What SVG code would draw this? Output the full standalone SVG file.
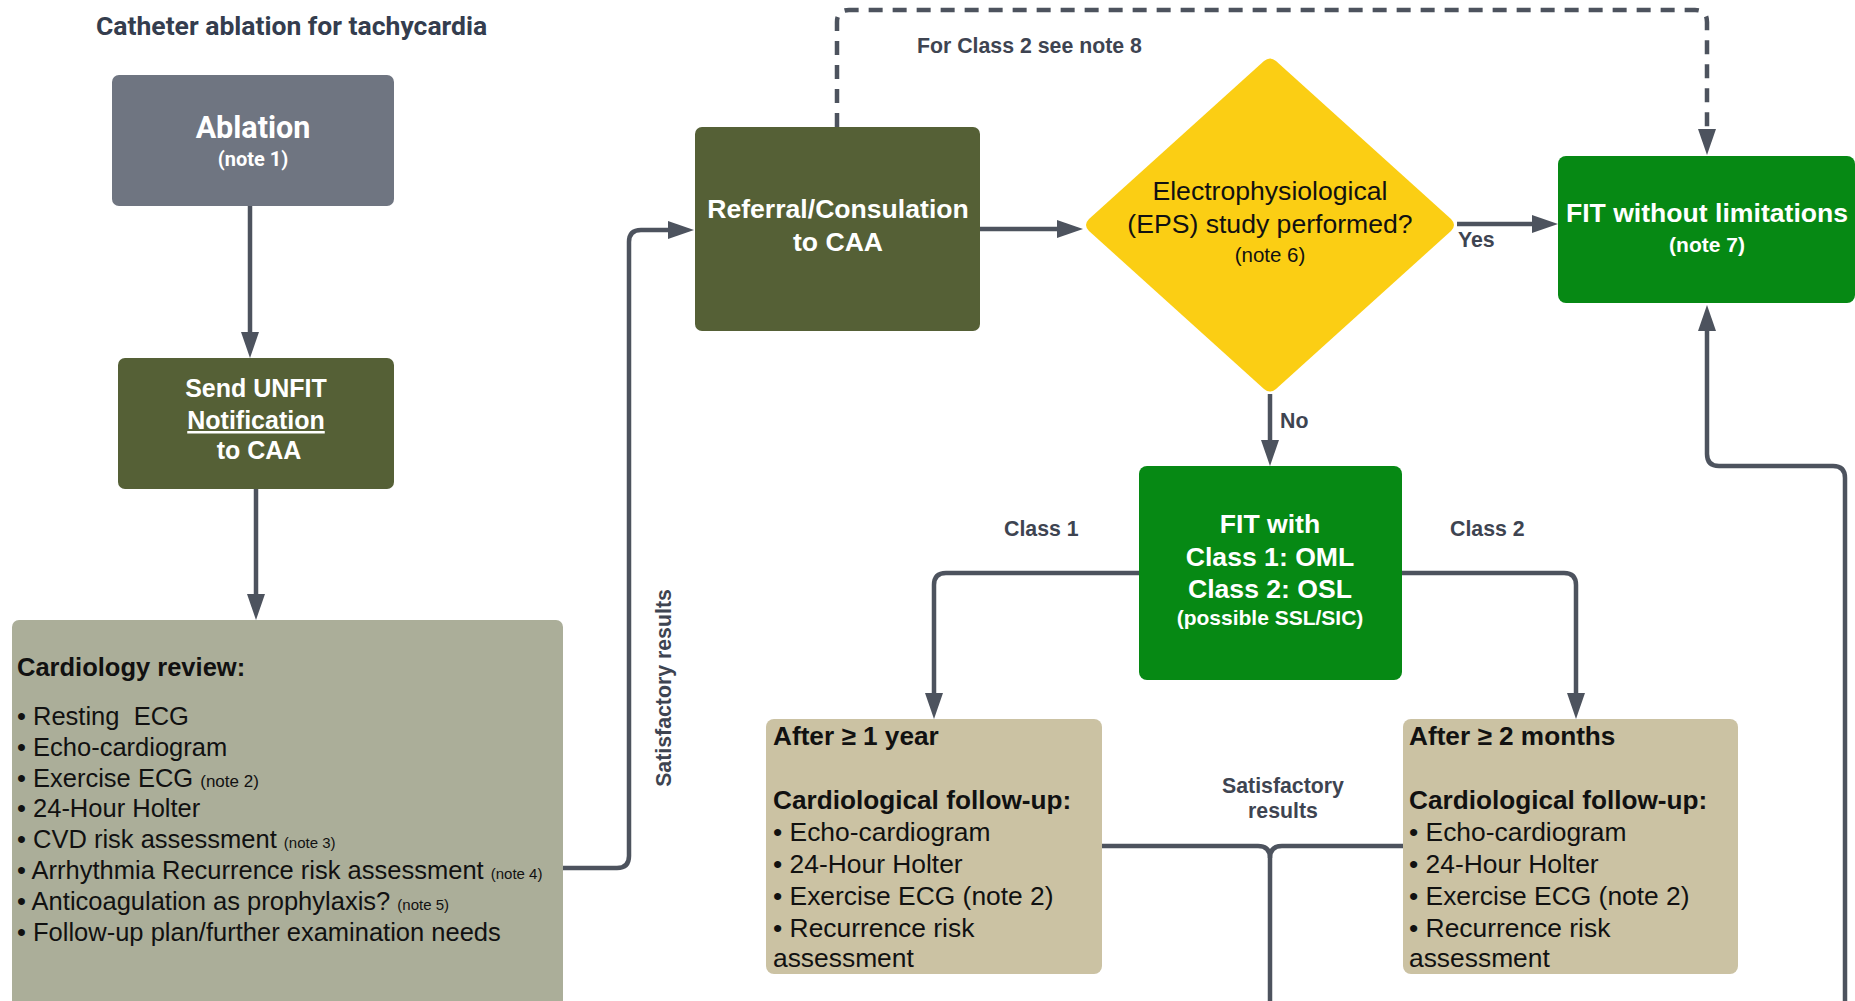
<svg xmlns="http://www.w3.org/2000/svg" width="1855" height="1001" viewBox="0 0 1855 1001">
<defs>
<style>
.title{font-family:Roboto,"Liberation Sans",sans-serif;font-weight:700;font-size:26.5px;fill:#343d4e}
.rob{font-family:Roboto,"Liberation Sans",sans-serif;font-weight:700;fill:#fff;text-anchor:middle}
.wb{font-family:"Liberation Sans",Arial,sans-serif;font-weight:700;fill:#fff;text-anchor:middle}
.dk{font-family:"Liberation Sans",Arial,sans-serif;fill:#111}
.dkb{font-family:"Liberation Sans",Arial,sans-serif;font-weight:700;fill:#111}
.lbl{font-family:"Liberation Sans",Arial,sans-serif;font-weight:700;font-size:21.3px;fill:#3e4451}
.conn{fill:none;stroke:#4d535e;stroke-width:4.5}
.arr{marker-end:url(#ah)}
.dash{stroke-dasharray:14 10}
</style>
<marker id="ah" markerWidth="26" markerHeight="18" refX="12" refY="9" orient="auto" markerUnits="userSpaceOnUse">
<path d="M0,0 L26,9 L0,18 z" fill="#4d535e"/>
</marker>
</defs>
<rect width="1855" height="1001" fill="#fff"/>
<text class="title" x="96" y="35">Catheter ablation for tachycardia</text>

<g id="connectors">
<path class="conn arr" d="M250,206 V344"/>
<path class="conn arr" d="M256,489 V606"/>
<path class="conn arr" d="M563,868 H617 Q629,868 629,856 V242 Q629,230 641,230 H680"/>
<path class="conn arr" d="M980,229 H1069"/>
<path class="conn arr" d="M1457,224 H1544"/>
<path class="conn arr dash" d="M837,127 V22 Q837,10 849,10 H1695 Q1707,10 1707,22 V141"/>
<path class="conn arr" d="M1270,394 V452"/>
<path class="conn arr" d="M1139,573 H946 Q934,573 934,585 V705"/>
<path class="conn arr" d="M1402,573 H1564 Q1576,573 1576,585 V705"/>
<path class="conn" d="M1102,846 H1258 Q1270,846 1270,858 V1010"/>
<path class="conn" d="M1403,846 H1282 Q1270,846 1270,858"/>
<path class="conn arr" d="M1845,1010 V478 Q1845,466 1833,466 H1719 Q1707,466 1707,454 V319"/>
<text class="lbl" x="917" y="53">For Class 2 see note 8</text>
<text class="lbl" x="1458" y="247">Yes</text>
<text class="lbl" x="1280" y="428">No</text>
<text class="lbl" x="1004" y="536">Class 1</text>
<text class="lbl" x="1450" y="536">Class 2</text>
<text class="lbl" x="1283" y="793" text-anchor="middle">Satisfactory</text>
<text class="lbl" x="1283" y="818" text-anchor="middle">results</text>
<text class="lbl" transform="translate(671,688) rotate(-90)" text-anchor="middle">Satisfactory results</text>
</g>

<g id="ablation">
<rect x="112" y="75" width="282" height="131" rx="7" fill="#6f7581"/>
<text class="rob" x="253" y="138" font-size="30.5">Ablation</text>
<text class="rob" x="253" y="166" font-size="20">(note 1)</text>
</g>

<g id="send-unfit">
<rect x="118" y="358" width="276" height="131" rx="7" fill="#556036"/>
<text class="wb" x="256" y="397" font-size="25">Send UNFIT</text>
<text class="wb" x="256" y="429" font-size="25" text-decoration="underline">Notification</text>
<text class="wb" x="259" y="459" font-size="25">to CAA</text>
</g>

<g id="cardiology-review">
<rect x="12" y="620" width="551" height="400" rx="7" fill="#abae99"/>
<text class="dkb" x="17" y="676" font-size="25.5">Cardiology review:</text>
<g class="dk" font-size="25.5">
<text x="17" y="725" xml:space="preserve">• Resting  ECG</text>
<text x="17" y="756">• Echo-cardiogram</text>
<text x="17" y="787">• Exercise ECG <tspan font-size="17">(note 2)</tspan></text>
<text x="17" y="817">• 24-Hour Holter</text>
<text x="17" y="848">• CVD risk assessment <tspan font-size="15">(note 3)</tspan></text>
<text x="17" y="879">• Arrhythmia Recurrence risk assessment <tspan font-size="15">(note 4)</tspan></text>
<text x="17" y="910">• Anticoagulation as prophylaxis? <tspan font-size="15">(note 5)</tspan></text>
<text x="17" y="941">• Follow-up plan/further examination needs</text>
</g>
</g>

<g id="referral">
<rect x="695" y="127" width="285" height="204" rx="7" fill="#556036"/>
<text class="wb" x="838" y="218" font-size="26.6">Referral/Consulation</text>
<text class="wb" x="838" y="251" font-size="26.6">to CAA</text>
</g>

<g id="eps-decision">
<path d="M1264,61 Q1270,56 1276,61 L1451,219 Q1457,225 1451,231 L1276,389 Q1270,394 1264,389 L1089,231 Q1083,225 1089,219 Z" fill="#fbce14"/>
<text class="dk" x="1270" y="200" font-size="26.6" text-anchor="middle">Electrophysiological</text>
<text class="dk" x="1270" y="233" font-size="26.6" text-anchor="middle">(EPS) study performed?</text>
<text class="dk" x="1270" y="262" font-size="20.5" text-anchor="middle">(note 6)</text>
</g>

<g id="fit-without-limitations">
<rect x="1558" y="156" width="297" height="147" rx="8" fill="#068914"/>
<text class="wb" x="1707" y="222" font-size="26.6">FIT without limitations</text>
<text class="wb" x="1707" y="252" font-size="21">(note 7)</text>
</g>

<g id="fit-with">
<rect x="1139" y="466" width="263" height="214" rx="8" fill="#068914"/>
<text class="wb" x="1270" y="533" font-size="26.6">FIT with</text>
<text class="wb" x="1270" y="566" font-size="26.6">Class 1: OML</text>
<text class="wb" x="1270" y="598" font-size="26.6">Class 2: OSL</text>
<text class="wb" x="1270" y="625" font-size="21">(possible SSL/SIC)</text>
</g>

<g id="after-1-year">
<rect x="766" y="719" width="336" height="255" rx="8" fill="#cbc2a3"/>
<text class="dkb" x="773" y="745" font-size="26.2">After ≥ 1 year</text>
<text class="dkb" x="773" y="809" font-size="26.2">Cardiological follow-up:</text>
<g class="dk" font-size="26.4">
<text x="773" y="841">• Echo-cardiogram</text>
<text x="773" y="873">• 24-Hour Holter</text>
<text x="773" y="905">• Exercise ECG (note 2)</text>
<text x="773" y="937">• Recurrence risk</text>
<text x="773" y="967">assessment</text>
</g>
</g>

<g id="after-2-months">
<rect x="1403" y="719" width="335" height="255" rx="8" fill="#cbc2a3"/>
<text class="dkb" x="1409" y="745" font-size="26.2">After ≥ 2 months</text>
<text class="dkb" x="1409" y="809" font-size="26.2">Cardiological follow-up:</text>
<g class="dk" font-size="26.4">
<text x="1409" y="841">• Echo-cardiogram</text>
<text x="1409" y="873">• 24-Hour Holter</text>
<text x="1409" y="905">• Exercise ECG (note 2)</text>
<text x="1409" y="937">• Recurrence risk</text>
<text x="1409" y="967">assessment</text>
</g>
</g>
</svg>
